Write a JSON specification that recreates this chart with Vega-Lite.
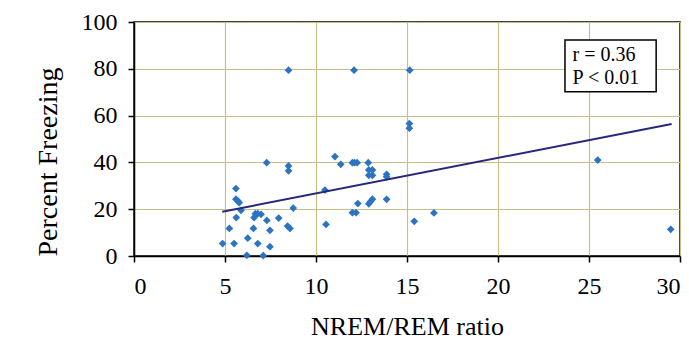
{
  "$schema": "https://vega.github.io/schema/vega-lite/v6.json",
  "width": 546,
  "height": 234,
  "autosize": "none",
  "padding": {"left": 134, "top": 22, "right": 9, "bottom": 85},
  "background": "white",
  "config": {
    "font": "Liberation Serif",
    "view": {"stroke": "black", "strokeWidth": 1.5},
    "axis": {
      "labelFont": "Liberation Serif",
      "titleFont": "Liberation Serif",
      "labelFontSize": 24,
      "titleFontSize": 26,
      "labelColor": "black",
      "titleColor": "black",
      "titleFontWeight": "normal",
      "domainColor": "black",
      "domainWidth": 1.5,
      "tickColor": "black",
      "tickWidth": 1.5,
      "tickSize": 6,
      "gridColor": "#c9bd8c",
      "gridWidth": 1.2,
      "gridOpacity": 1
    }
  },
  "datasets": {
    "pts": [
      {"ratio": 4.87, "freezing": 5.3},
      {"ratio": 5.24, "freezing": 11.8},
      {"ratio": 5.6, "freezing": 28.8},
      {"ratio": 5.6, "freezing": 24.3},
      {"ratio": 5.7, "freezing": 23.6},
      {"ratio": 5.78, "freezing": 22.8},
      {"ratio": 5.88, "freezing": 19.5},
      {"ratio": 5.62, "freezing": 16.4},
      {"ratio": 5.5, "freezing": 5.3},
      {"ratio": 6.2, "freezing": 0.3},
      {"ratio": 6.25, "freezing": 7.6},
      {"ratio": 6.56, "freezing": 11.8},
      {"ratio": 6.6, "freezing": 16.4},
      {"ratio": 6.67, "freezing": 18.1},
      {"ratio": 6.8, "freezing": 18.1},
      {"ratio": 6.98, "freezing": 17.8},
      {"ratio": 6.8, "freezing": 5.3},
      {"ratio": 7.1, "freezing": 0.2},
      {"ratio": 7.29, "freezing": 39.9},
      {"ratio": 7.3, "freezing": 15.2},
      {"ratio": 7.47, "freezing": 11.0},
      {"ratio": 7.47, "freezing": 4.0},
      {"ratio": 7.95, "freezing": 16.2},
      {"ratio": 8.49, "freezing": 79.4},
      {"ratio": 8.49, "freezing": 38.5},
      {"ratio": 8.49, "freezing": 36.4},
      {"ratio": 8.44, "freezing": 12.8},
      {"ratio": 8.57, "freezing": 11.8},
      {"ratio": 8.75, "freezing": 20.5},
      {"ratio": 10.49, "freezing": 28.2},
      {"ratio": 10.55, "freezing": 13.5},
      {"ratio": 11.04, "freezing": 42.5},
      {"ratio": 11.36, "freezing": 39.2},
      {"ratio": 12.09, "freezing": 79.4},
      {"ratio": 12.0, "freezing": 39.9},
      {"ratio": 12.12, "freezing": 39.9},
      {"ratio": 12.26, "freezing": 39.9},
      {"ratio": 12.0, "freezing": 18.5},
      {"ratio": 12.2, "freezing": 18.5},
      {"ratio": 12.3, "freezing": 22.4},
      {"ratio": 12.87, "freezing": 39.9},
      {"ratio": 12.9, "freezing": 36.8},
      {"ratio": 13.1, "freezing": 36.8},
      {"ratio": 12.9, "freezing": 34.5},
      {"ratio": 13.1, "freezing": 34.5},
      {"ratio": 12.9, "freezing": 22.3},
      {"ratio": 13.0, "freezing": 23.3},
      {"ratio": 13.1, "freezing": 24.3},
      {"ratio": 13.88, "freezing": 34.9},
      {"ratio": 13.88, "freezing": 33.9},
      {"ratio": 13.88, "freezing": 24.2},
      {"ratio": 15.15, "freezing": 79.4},
      {"ratio": 15.13, "freezing": 56.6},
      {"ratio": 15.13, "freezing": 54.6},
      {"ratio": 15.4, "freezing": 14.8},
      {"ratio": 16.48, "freezing": 18.4},
      {"ratio": 25.48, "freezing": 41.0},
      {"ratio": 29.49, "freezing": 11.4}
    ],
    "fit": [
      {"ratio": 4.85, "freezing": 18.9},
      {"ratio": 29.54, "freezing": 56.4}
    ],
    "box": [
      {"x1": 23.68, "x2": 28.69, "y1": 70.2, "y2": 92.3}
    ],
    "stats": [
      {"ratio": 24.1, "freezing": 86.0, "label": "r = 0.36"},
      {"ratio": 24.1, "freezing": 76.1, "label": "P < 0.01"}
    ]
  },
  "layer": [
    {
      "data": {"name": "pts"},
      "mark": {"type": "point", "shape": "diamond", "filled": true, "size": 60, "color": "#2a74c2", "opacity": 1},
      "encoding": {
        "x": {
          "field": "ratio", "type": "quantitative",
          "scale": {"domain": [0, 30], "nice": false},
          "axis": {"values": [0, 5, 10, 15, 20, 25, 30], "title": "NREM/REM ratio", "titlePadding": 15, "labelPadding": 12}
        },
        "y": {
          "field": "freezing", "type": "quantitative",
          "scale": {"domain": [0, 100], "nice": false},
          "axis": {"values": [0, 20, 40, 60, 80, 100], "title": "Percent  Freezing", "titleX": -78, "titleY": 139.5, "titleBaseline": "alphabetic", "titleFontSize": 28, "labelPadding": 11}
        }
      }
    },
    {
      "data": {"name": "fit"},
      "mark": {"type": "line", "color": "#27287a", "strokeWidth": 2},
      "encoding": {
        "x": {"field": "ratio", "type": "quantitative"},
        "y": {"field": "freezing", "type": "quantitative"}
      }
    },
    {
      "data": {"name": "box"},
      "mark": {"type": "rect", "fill": "white", "stroke": "black", "strokeWidth": 1.5},
      "encoding": {
        "x": {"field": "x1", "type": "quantitative"},
        "x2": {"field": "x2"},
        "y": {"field": "y1", "type": "quantitative"},
        "y2": {"field": "y2"}
      }
    },
    {
      "data": {"name": "stats"},
      "mark": {"type": "text", "align": "left", "baseline": "middle", "fontSize": 20, "font": "Liberation Serif", "color": "black"},
      "encoding": {
        "x": {"field": "ratio", "type": "quantitative"},
        "y": {"field": "freezing", "type": "quantitative"},
        "text": {"field": "label"}
      }
    }
  ]
}
